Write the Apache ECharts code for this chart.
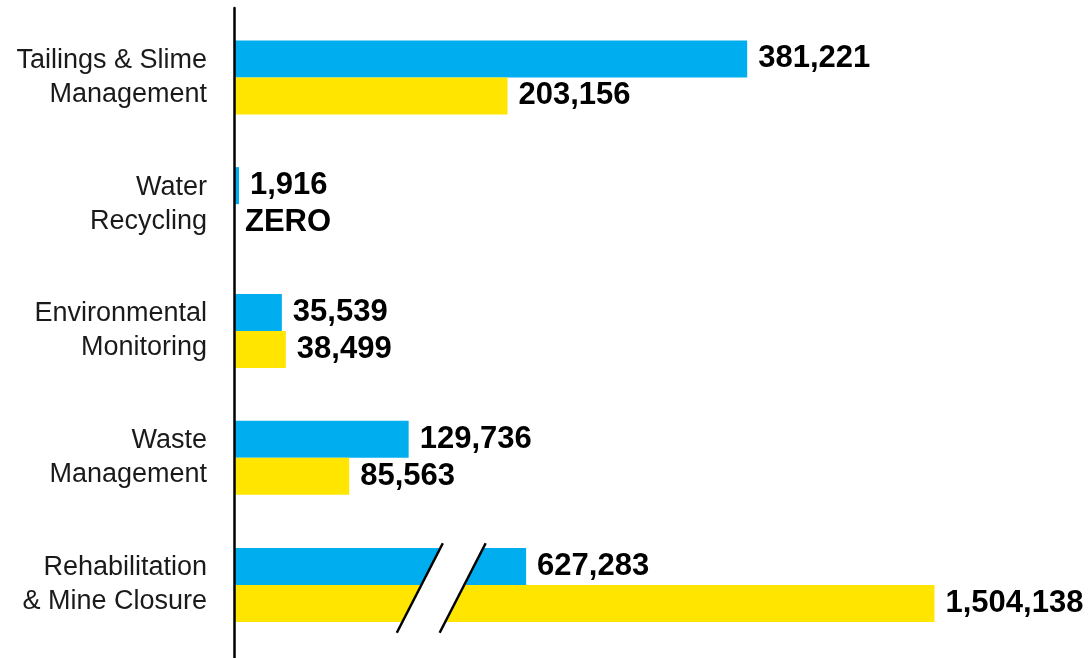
<!DOCTYPE html>
<html>
<head>
<meta charset="utf-8">
<script src="https://cdn.jsdelivr.net/npm/echarts@6/dist/echarts.min.js"></script>
<style>
html,body{margin:0;padding:0;background:#fff;}
#chart{width:1091px;height:658px;}
</style>
</head>
<body>
<div id="chart"></div>
<script>
// ---- data ----
const categories = ['Tailings & Slime\nManagement', 'Water\nRecycling', 'Environmental\nMonitoring', 'Waste\nManagement', 'Rehabilitation\n& Mine Closure'];
const blueValues = [381221, 1916, 35539, 129736, 627283];
const yellowValues = [203156, 0, 38499, 85563, 1504138];
// the last category is drawn on its own (broken) scale
const topMax = 595000;
const bottomMax = 1720000;
const breakRange = [399000, 491000];

const BLUE = '#00AEEF';
const YELLOW = '#FFE500';
const FONT = '"Liberation Sans", Arial, sans-serif';

const chart = echarts.init(document.getElementById('chart'), null, {renderer: 'canvas'});

const fmt = v => v === 0 ? 'ZERO' : v.toLocaleString('en-US');

const valueLabel = {
  show: true,
  position: 'right',
  distance: 11,
  fontFamily: FONT,
  fontWeight: 'bold',
  fontSize: 31,
  color: '#000',
  formatter: p => fmt(p.value)
};

const yAxisCommon = {
  type: 'category',
  inverse: true,
  axisTick: {show: false},
  axisLine: {show: false},
  axisLabel: {margin: 27, fontFamily: FONT, fontSize: 27, lineHeight: 34, color: '#1a1a1a', align: 'right'},
  z: 10
};

function barSeries(name, color, data, axisIdx, extra) {
  return Object.assign({
    name: name,
    type: 'bar',
    xAxisIndex: axisIdx,
    yAxisIndex: axisIdx,
    data: data,
    barWidth: 37,
    barGap: '0%',
    itemStyle: {color: color},
    label: valueLabel,
    animation: false
  }, extra || {});
}

const option = {
  animation: false,
  backgroundColor: '#fff',
  grid: [
    {left: 234, right: 56, top: 14, height: 507, outerBoundsMode: 'none', containLabel: false},
    {left: 234, right: 56, top: 521, height: 128, outerBoundsMode: 'none', containLabel: false},
    // full-height grid that only carries the vertical axis line
    {left: 234, right: 56, top: 8, bottom: 0, outerBoundsMode: 'none', containLabel: false}
  ],
  xAxis: [
    {type: 'value', gridIndex: 0, min: 0, max: topMax, show: false},
    {type: 'value', gridIndex: 1, min: 0, max: bottomMax, show: false},
    {type: 'value', gridIndex: 2, min: 0, max: 1, show: false}
  ],
  yAxis: [
    Object.assign({gridIndex: 0, data: categories.slice(0, 4)}, yAxisCommon),
    Object.assign({gridIndex: 1, data: categories.slice(4)}, yAxisCommon),
    {type: 'value', gridIndex: 2, min: 0, max: 1, z: 10,
     axisLine: {show: true, lineStyle: {color: '#000', width: 2.5}},
     axisTick: {show: false}, axisLabel: {show: false}, splitLine: {show: false}}
  ],
  series: [
    barSeries('blue', BLUE, blueValues.slice(0, 4), 0, {barMinHeight: 5}),
    barSeries('yellow', YELLOW, yellowValues.slice(0, 4), 0),
    barSeries('blue2', BLUE, blueValues.slice(4), 1),
    barSeries('yellow2', YELLOW, yellowValues.slice(4), 1)
  ]
};
chart.setOption(option);

// break marks on the last category, placed through the bottom axis scale
const p1 = chart.convertToPixel({xAxisIndex: 1, yAxisIndex: 1}, [breakRange[0], 0]);
const p2 = chart.convertToPixel({xAxisIndex: 1, yAxisIndex: 1}, [breakRange[1], 0]);
const yc = p1[1] + 3, half = 44.7, slant = 23;
const topY = yc - half, botY = yc + half;
chart.setOption({
  graphic: [
    {type: 'polygon', z: 20, shape: {points: [[p1[0] + slant, topY], [p2[0] + slant, topY], [p2[0] - slant, botY], [p1[0] - slant, botY]]}, style: {fill: '#fff'}},
    {type: 'line', z: 21, shape: {x1: p1[0] + slant, y1: topY, x2: p1[0] - slant, y2: botY}, style: {stroke: '#000', lineWidth: 2.5}},
    {type: 'line', z: 21, shape: {x1: p2[0] + slant, y1: topY, x2: p2[0] - slant, y2: botY}, style: {stroke: '#000', lineWidth: 2.5}}
  ]
});
</script>
</body>
</html>
